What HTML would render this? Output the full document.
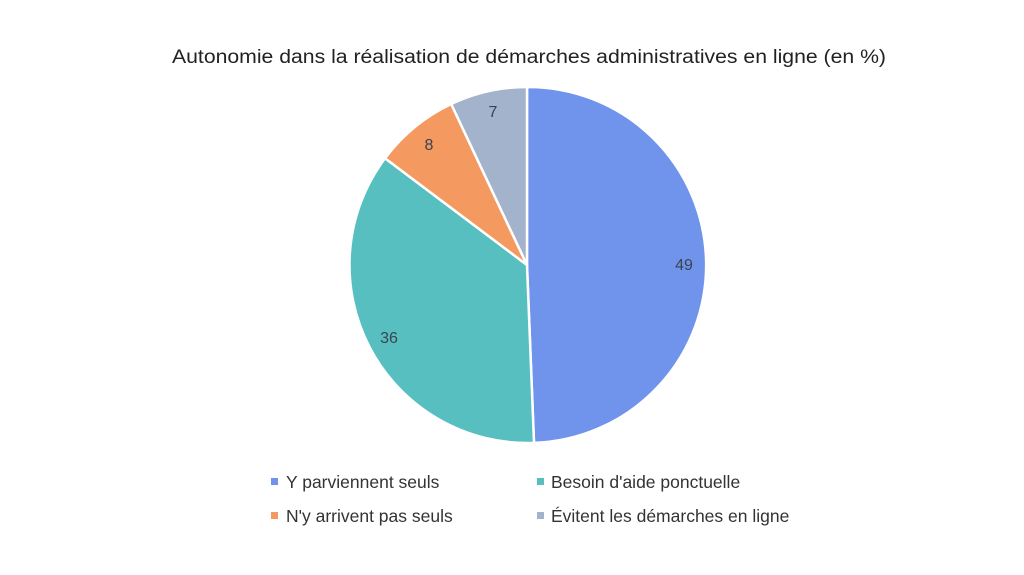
<!DOCTYPE html>
<html><head><meta charset="utf-8"><style>
body{margin:0;background:#fff;width:1024px;height:575px;overflow:hidden}
svg{display:block}
text{font-family:"Liberation Sans",sans-serif}
</style></head><body>
<svg width="1024" height="575" viewBox="0 0 1024 575">
<text x="529" y="63" text-anchor="middle" font-size="19" textLength="714" lengthAdjust="spacingAndGlyphs" fill="#222">Autonomie dans la réalisation de démarches administratives en ligne (en %)</text>
<g stroke="#fff" stroke-width="2.5" stroke-linejoin="round">
<path d="M527,265 L527,87 A178,178 0 0 1 534,442.9 Z" fill="#7094ec"/>
<path d="M527,265 L534,442.9 A178,178 0 0 1 385,158.3 Z" fill="#58bfc1"/>
<path d="M527,265 L385,158.3 A178,178 0 0 1 451.2,104 Z" fill="#f4995f"/>
<path d="M527,265 L451.2,104 A178,178 0 0 1 527,87 Z" fill="#a3b3cb"/>
</g>
<g font-size="16" fill="#3a4450" text-anchor="middle">
<text x="684" y="270">49</text>
<text x="389" y="343">36</text>
<text x="429" y="150">8</text>
<text x="493" y="117">7</text>
</g>
<g font-size="17.5" fill="#333">
<rect x="271" y="478" width="7" height="7" fill="#7094ec"/><text x="286" y="488">Y parviennent seuls</text>
<rect x="537" y="478" width="7" height="7" fill="#58bfc1"/><text x="551" y="488">Besoin d'aide ponctuelle</text>
<rect x="271" y="512" width="7" height="7" fill="#f4995f"/><text x="286" y="522">N'y arrivent pas seuls</text>
<rect x="537" y="512" width="7" height="7" fill="#a3b3cb"/><text x="551" y="522">Évitent les démarches en ligne</text>
</g>
</svg>
</body></html>
